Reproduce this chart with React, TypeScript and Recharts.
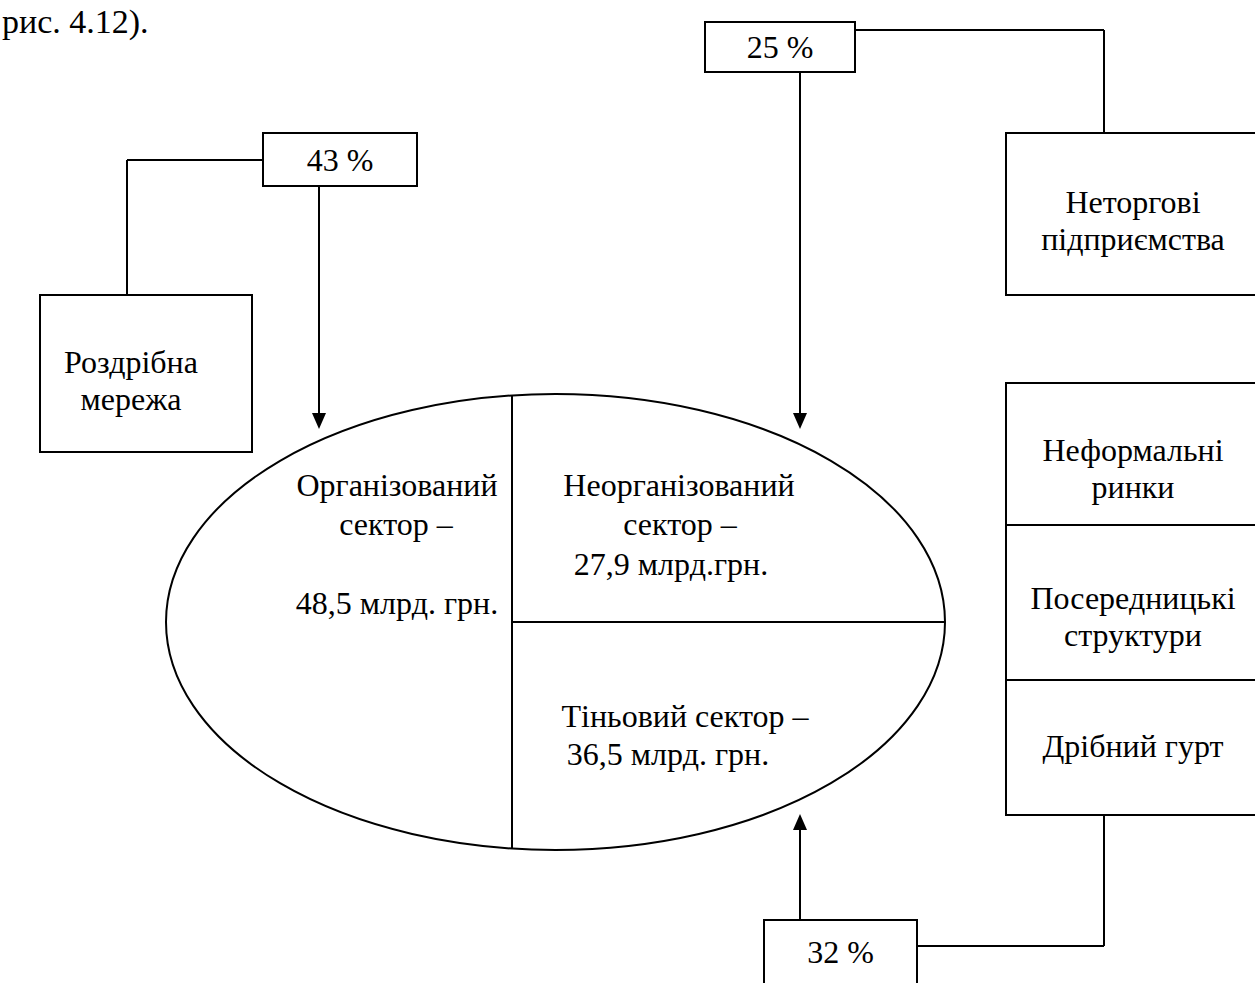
import React from "react"
import { ComposedChart, XAxis, YAxis, Scatter, ReferenceArea, ReferenceLine, ReferenceDot } from "recharts"

// Market structure: sectors (bn UAH) and channel shares (%)
const sectorNames = ["Організований", "Неорганізований", "Тіньовий"]
const sectorValues = [48.5, 27.9, 36.5]
const sectorUnits = ["млрд. грн.", "млрд.грн.", "млрд. грн."]

const shareValues = [43, 25, 32]
const channelLabels = [["Роздрібна", "мережа"], ["Неторгові", "підприємства"]]
const informalLabels = [["Неформальні", "ринки"], ["Посередницькі", "структури"], ["Дрібний гурт"]]
const caption = "рис. 4.12)."

const W = 1255
const H = 983
const FONT = "'Liberation Serif', 'Times New Roman', serif"
const FS = 32
const LH = 37

// layout (pixel-space domain, not data)
const shareBoxes = [
  { cx: 340, cy: 159.5, w: 154, h: 53 },
  { cx: 780, cy: 47, w: 150, h: 50 },
  { cx: 840.5, cy: 955, w: 153, h: 70 },
]
const shareText = [171, 58, 963]
const channelBoxes = [
  { x1: 40, x2: 252, y1: 295, y2: 452, tx: 131, ty: 373 },
  { x1: 1006, x2: 1257, y1: 133, y2: 295, tx: 1133, ty: 213 },
]
const informalBoxes = [
  { y1: 383, y2: 525, ty: 461 },
  { y1: 525, y2: 680, ty: 609 },
  { y1: 680, y2: 815, ty: 757 },
]
const connectors = [
  [{ x: 263, y: 160 }, { x: 127, y: 160 }, { x: 127, y: 295 }],
  [{ x: 855, y: 30 }, { x: 1104, y: 30 }, { x: 1104, y: 133 }],
  [{ x: 917, y: 946 }, { x: 1104, y: 946 }, { x: 1104, y: 815 }],
]
const arrows = [
  [{ x: 319, y: 186 }, { x: 319, y: 429 }],
  [{ x: 800, y: 72 }, { x: 800, y: 429 }],
  [{ x: 800, y: 920 }, { x: 800, y: 814 }],
]
const ellipse = { cx: 555.5, cy: 622, rx: 389.5, ry: 228 }
const splitX = 512
const sectorText = [
  { xs: [397, 396, 397], ys: [496, 535, 614] },
  { xs: [679, 680, 671], ys: [496, 535, 575] },
  { xs: [685, 668], ys: [727, 765] },
]

const fmt = (v: number) => v.toFixed(1).replace(".", ",")

const sectorLines = sectorNames.map((name, i) => {
  if (i === 2) return [`${name} сектор –`, `${fmt(sectorValues[i])} ${sectorUnits[i]}`]
  return [name, "сектор –", `${fmt(sectorValues[i])} ${sectorUnits[i]}`]
})

const shareTable = shareValues.map((v, i) => ({ x: shareBoxes[i].cx, y: shareBoxes[i].cy, value: v, i }))

const textStyle = { fontFamily: FONT, fontSize: FS, fill: "#000" }

function ShareBox(props: any) {
  const { cx, cy, payload } = props
  const b = shareBoxes[payload.i]
  return (
    <g>
      <rect x={cx - b.w / 2} y={cy - b.h / 2} width={b.w} height={b.h} fill="#fff" stroke="#000" strokeWidth={2} />
      <text x={cx} y={shareText[payload.i]} textAnchor="middle" {...textStyle}>
        {`${payload.value} %`}
      </text>
    </g>
  )
}

function Arrow(props: any) {
  const { x1, y1, x2, y2 } = props
  const dir = y2 > y1 ? 1 : -1
  const head = 16
  return (
    <g>
      <line x1={x1} y1={y1} x2={x2} y2={y2 - dir * head} stroke="#000" strokeWidth={2} />
      <polygon points={`${x2},${y2} ${x2 - 7},${y2 - dir * head} ${x2 + 7},${y2 - dir * head}`} fill="#000" />
    </g>
  )
}

const multiLine = (lines: string[], xs: number[], ys: number[]) => () => (
  <text textAnchor="middle" {...textStyle}>
    {lines.map((l, k) => (
      <tspan key={k} x={xs[k]} y={ys[k]}>
        {l}
      </tspan>
    ))}
  </text>
)

const chordHalf = ellipse.ry * Math.sqrt(1 - ((splitX - ellipse.cx) / ellipse.rx) ** 2)

export default function App() {
  return (
    <div style={{ width: W, height: H, background: "#fff" }}>
      <style>{"body{margin:0;background:#fff}"}</style>
      <ComposedChart width={W} height={H} margin={{ top: 0, right: 0, bottom: 0, left: 0 }}>
        <XAxis type="number" dataKey="x" domain={[0, W]} hide allowDataOverflow />
        <YAxis type="number" dataKey="y" domain={[0, H]} reversed hide allowDataOverflow />

        {/* split lines inside the ellipse */}
        <ReferenceLine
          ifOverflow="visible"
          segment={[
            { x: splitX, y: ellipse.cy - chordHalf },
            { x: splitX, y: ellipse.cy + chordHalf },
          ]}
          stroke="#000"
          strokeWidth={2}
        />
        <ReferenceLine
          ifOverflow="visible"
          segment={[{ x: splitX, y: ellipse.cy }, { x: ellipse.cx + ellipse.rx - 1, y: ellipse.cy }]}
          stroke="#000"
          strokeWidth={2}
        />

        {/* connectors */}
        {connectors.map((pts, i) =>
          pts.slice(1).map((p, k) => (
            <ReferenceLine
              key={`con-${i}-${k}`}
              ifOverflow="visible"
              segment={[pts[k], p]}
              stroke="#000"
              strokeWidth={2}
            />
          ))
        )}
        {arrows.map((seg, i) => (
          <ReferenceLine key={`arr-${i}`} ifOverflow="visible" segment={seg} shape={Arrow} />
        ))}

        {/* channel boxes */}
        {channelBoxes.map((b, i) => (
          <ReferenceArea
            key={`ch-${i}`}
            x1={b.x1}
            x2={b.x2}
            y1={b.y1}
            y2={b.y2}
            ifOverflow="visible"
            fill="#fff"
            fillOpacity={1}
            stroke="#000"
            strokeWidth={2}
          />
        ))}
        {informalBoxes.map((b, i) => (
          <ReferenceArea
            key={`inf-${i}`}
            x1={1006}
            x2={1257}
            y1={b.y1}
            y2={b.y2}
            ifOverflow="visible"
            fill="#fff"
            fillOpacity={1}
            stroke="#000"
            strokeWidth={2}
          />
        ))}

        <ReferenceDot
          x={ellipse.cx}
          y={ellipse.cy}
          ifOverflow="visible"
          shape={(p: any) => (
            <ellipse cx={p.cx} cy={p.cy} rx={ellipse.rx} ry={ellipse.ry} fill="none" stroke="#000" strokeWidth={2} />
          )}
        />
        {sectorLines.map((lines, i) => (
          <ReferenceDot
            key={`sec-${i}`}
            x={sectorText[i].xs[0]}
            y={sectorText[i].ys[0]}
            ifOverflow="visible"
            shape={multiLine(lines, sectorText[i].xs, sectorText[i].ys)}
          />
        ))}
        {channelBoxes.map((b, i) => (
          <ReferenceDot
            key={`cht-${i}`}
            x={b.tx}
            y={b.ty}
            ifOverflow="visible"
            shape={multiLine(channelLabels[i], [b.tx, b.tx], [b.ty, b.ty + LH])}
          />
        ))}
        {informalBoxes.map((b, i) => (
          <ReferenceDot
            key={`inft-${i}`}
            x={1133}
            y={b.ty}
            ifOverflow="visible"
            shape={multiLine(informalLabels[i], [1133, 1133], [b.ty, b.ty + LH])}
          />
        ))}

        <ReferenceDot
          x={2}
          y={33}
          ifOverflow="visible"
          shape={(p: any) => (
            <text x={p.cx} y={p.cy} {...textStyle} fontSize={34}>
              {caption}
            </text>
          )}
        />

        <Scatter data={shareTable} shape={ShareBox} isAnimationActive={false} />
      </ComposedChart>
    </div>
  )
}
